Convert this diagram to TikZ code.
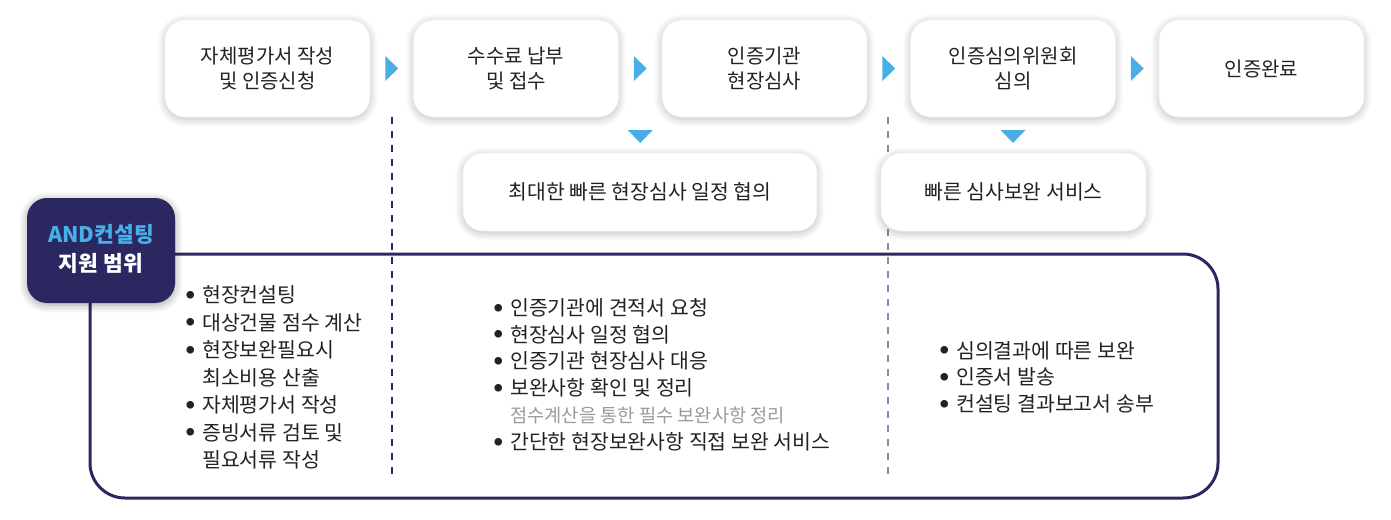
\documentclass[tikz,border=0pt]{standalone}
\usepackage{fontspec}
\setmainfont{Noto Sans CJK KR}
\usetikzlibrary{shadows.blur,calc}
\definecolor{navy}{HTML}{2B2861}
\definecolor{arrowblue}{HTML}{4AAEE6}
\definecolor{lightblue}{HTML}{45B1E8}
\definecolor{txt}{HTML}{222222}
\definecolor{subgray}{HTML}{9A9A9A}
\definecolor{dashtwo}{HTML}{8D86BB}
\newcommand{\bdot}{\raisebox{4.2pt}{\fontsize{8.5}{8.5}\selectfont ●}}
\newcommand{\bl}[1]{\makebox[16pt][l]{\bdot}#1}
\newcommand{\cl}[1]{\hspace*{16pt}#1}
\begin{document}
\begin{tikzpicture}[x=1pt,y=-1pt,
  card/.style={rounded corners=20pt, fill=white, draw=black!6, line width=0.6pt,
    blur shadow={shadow xshift=0pt, shadow yshift=-2pt, shadow blur radius=8pt, shadow opacity=26, shadow blur steps=14},
    align=center, text=txt, inner sep=0pt},
  topbox/.style={card, minimum width=205pt, minimum height=97pt, font=\fontsize{20}{25}\selectfont},
  midbox/.style={card, minimum height=78pt, font=\fontsize{20.4}{25}\selectfont},
  andbox/.style={rounded corners=20pt, fill=navy, minimum width=148pt, minimum height=105pt,
    blur shadow={shadow xshift=0pt, shadow yshift=-2pt, shadow blur radius=8pt, shadow opacity=35, shadow blur steps=14},
    inner sep=0pt},
  andtext/.style={align=center, inner sep=0pt, font=\fontsize{21.5}{29}\selectfont\bfseries},
  rtri/.style={fill=arrowblue},
  divider/.style={dash pattern=on 7pt off 7pt, line width=1.2pt},
  list/.style={anchor=north west, align=left, inner sep=0pt, text=txt, font=\fontsize{20.5}{27.5}\selectfont}
]
\useasboundingbox (0,0) rectangle (1391,519);

% dashed dividers
\coordinate (d1t) at (392,117);
\coordinate (d1b) at (392,478);
\coordinate (d2t) at (888,117);
\coordinate (d2b) at (888,478);
\draw[divider, navy] (d1t) -- (d1b);
\draw[divider, dashtwo] (d2t) -- (d2b);

% support scope frame
\draw[navy, line width=3pt, rounded corners=35pt] (90,254) rectangle (1218,498);

% top process
\node[topbox] (s1) at (267.5,68.5) {자체평가서 작성\\및 인증신청};
\node[topbox] (s2) at (516,68.5) {수수료 납부\\및 접수};
\node[topbox] (s3) at (764.5,68.5) {인증기관\\현장심사};
\node[topbox] (s4) at (1013,68.5) {인증심의위원회\\심의};
\node[topbox] (s5) at (1261.5,68.5) {인증완료};

\foreach \a/\b in {s1/s2,s2/s3,s3/s4,s4/s5}{
  \fill[rtri] ($(\a.east)!0.5!(\b.west)$) ++(-6.5,-12.5) -- ++(13,12.5) -- ++(-13,12.5) -- cycle;
}

% second row
\node[midbox, minimum width=354pt] (m1) at (640,192) {최대한 빠른 현장심사 일정 협의};
\node[midbox, minimum width=265pt] (m2) at (1013.5,192) {빠른 심사보완 서비스};

\coordinate (g23) at ($(s2.east)!0.5!(s3.west)$);
\fill[rtri] (g23) ++(-12.5,61.5) -- ++(25,0) -- ++(-12.5,13) -- cycle;
\fill[rtri] (s4.center) ++(-12.5,61.5) -- ++(25,0) -- ++(-12.5,13) -- cycle;

% AND box
\node[andbox] (and) at (101,250.5) {};
\node[andtext] (andtxt) at (101,248.5) {\textcolor{lightblue}{AND컨설팅}\\\textcolor{white}{지원 범위}};

% lists
\node[list] (c1) at (186,285.5) {\bl{현장컨설팅}\\\bl{대상건물 점수 계산}\\\bl{현장보완필요시}\\\cl{최소비용 산출}\\\bl{자체평가서 작성}\\\bl{증빙서류 검토 및}\\\cl{필요서류 작성}};
\node[list, font=\fontsize{20.5}{26.8}\selectfont] (c2) at (494,298) {\bl{인증기관에 견적서 요청}\\\bl{현장심사 일정 협의}\\\bl{인증기관 현장심사 대응}\\\bl{보완사항 확인 및 정리}\\\cl{\textcolor{subgray}{\fontsize{18.7}{26.8}\selectfont 점수계산을 통한 필수 보완사항 정리}}\\\bl{간단한 현장보완사항 직접 보완 서비스}};
\node[list, font=\fontsize{20.5}{26.7}\selectfont] (c3) at (940,341) {\bl{심의결과에 따른 보완}\\\bl{인증서 발송}\\\bl{컨설팅 결과보고서 송부}};
\end{tikzpicture}
\end{document}
